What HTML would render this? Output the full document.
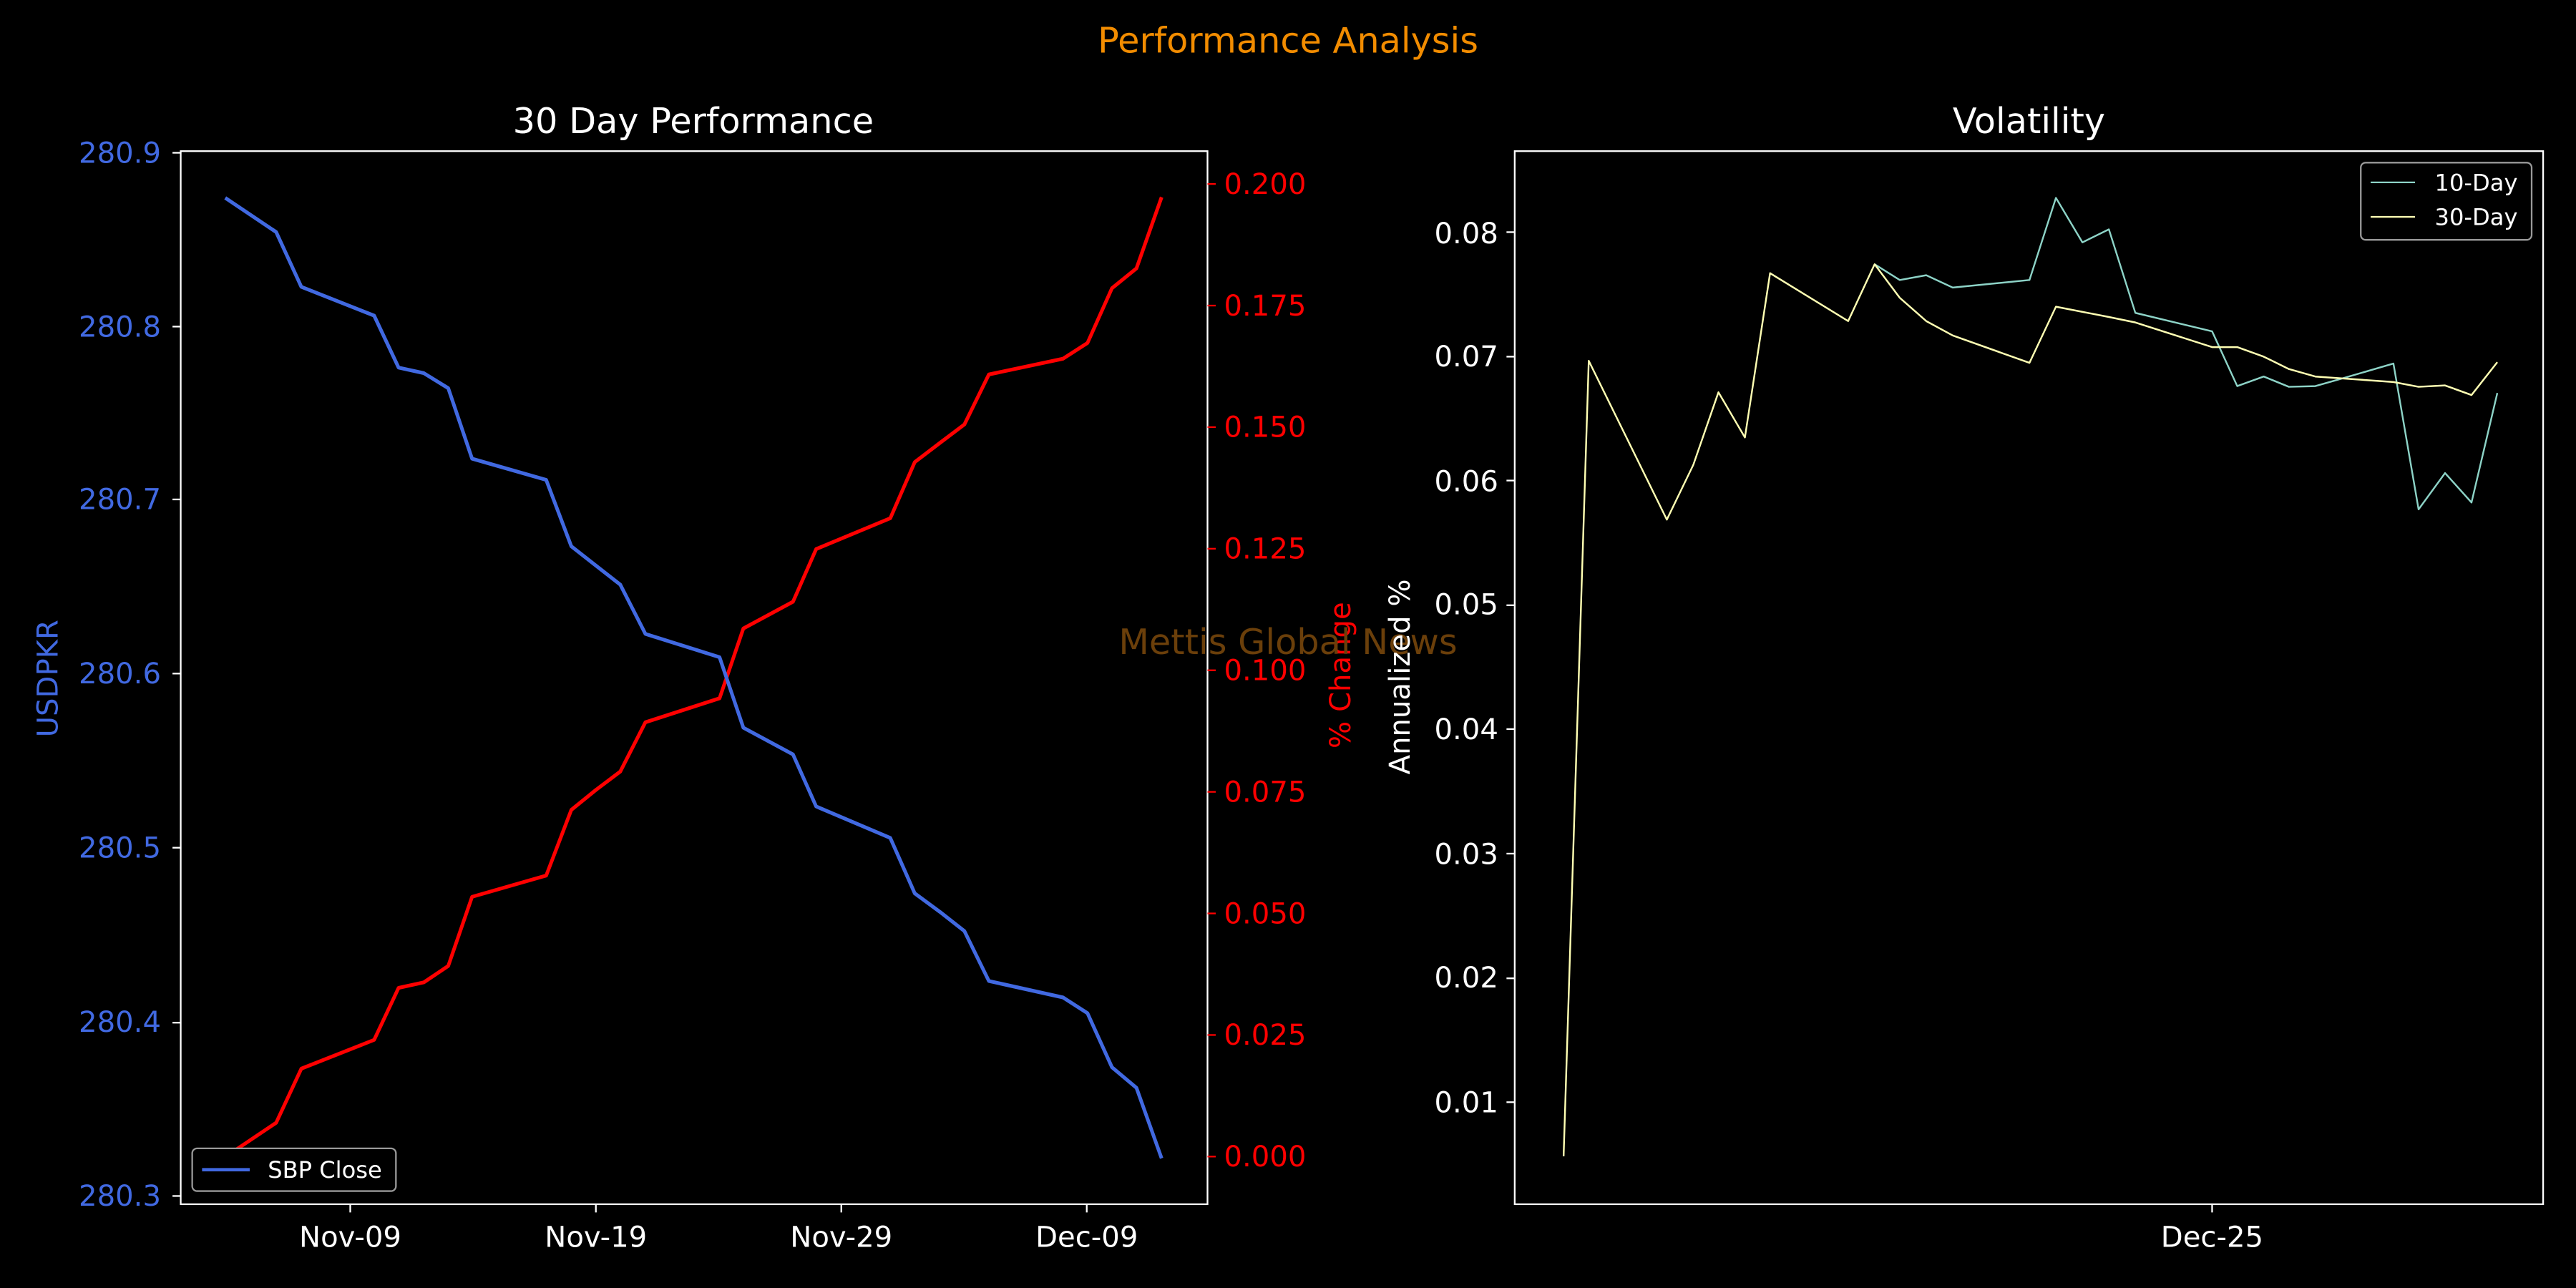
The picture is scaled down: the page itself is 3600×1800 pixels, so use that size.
<!DOCTYPE html>
<html><head><meta charset="utf-8"><style>html,body{margin:0;padding:0;background:#000;}svg{display:block}</style></head>
<body>
<svg width="3600" height="1800" viewBox="0 0 1568 784" xmlns="http://www.w3.org/2000/svg" font-family="'DejaVu Sans','Liberation Sans',sans-serif">
<rect width="1568" height="784" fill="#000"/>
<text x="784" y="32" fill="#f28c00" font-size="21.5" text-anchor="middle">Performance Analysis</text>

<!-- LEFT -->
<text x="422" y="81" fill="#fff" font-size="21.5" text-anchor="middle">30 Day Performance</text>
<g transform="translate(108.9,87.1) scale(0.4028,0.4167)" fill="none" stroke-linejoin="round">
<polyline stroke="#ff0000" stroke-width="5.4" points="70,1481 147,1431 185,1352 295,1310 332,1234 370,1226 407,1202 443,1101 555,1070 593,974 630,945 667,918 705,846 817,811 853,709 928,670 963,593 1075,548 1112,466 1150,438 1187,411 1224,338 1336,315 1373,292 1410,212 1447,183 1485,79"/>
<polyline stroke="#4169e1" stroke-width="5.4" points="70,80 147,130 185,210 295,252 332,328 370,336 407,358 443,461 555,492 593,589 630,617 667,645 705,717 817,751 853,854 928,893 963,969 1075,1015 1112,1096 1150,1123 1187,1151 1224,1224 1336,1248 1373,1271 1410,1350 1447,1380 1485,1483"/>
</g>
<rect x="110" y="92" width="625" height="641" fill="none" stroke="#fff" stroke-width="1"/>
<g stroke="#fff" stroke-width="1">
<line x1="110" x2="105" y1="93" y2="93"/><line x1="110" x2="105" y1="198.8" y2="198.8"/><line x1="110" x2="105" y1="304" y2="304"/><line x1="110" x2="105" y1="410" y2="410"/><line x1="110" x2="105" y1="516" y2="516"/><line x1="110" x2="105" y1="622.5" y2="622.5"/><line x1="110" x2="105" y1="728" y2="728"/>
<line x1="213.2" x2="213.2" y1="733" y2="738"/><line x1="362.7" x2="362.7" y1="733" y2="738"/><line x1="512.1" x2="512.1" y1="733" y2="738"/><line x1="661.5" x2="661.5" y1="733" y2="738"/>
</g>
<g fill="#4169e1" font-size="17.5" text-anchor="end">
<text x="98" y="99">280.9</text><text x="98" y="205">280.8</text><text x="98" y="310">280.7</text><text x="98" y="416">280.6</text><text x="98" y="522">280.5</text><text x="98" y="628">280.4</text><text x="98" y="734">280.3</text>
</g>
<g fill="#fff" font-size="17.5" text-anchor="middle">
<text x="213.2" y="759">Nov-09</text><text x="362.7" y="759">Nov-19</text><text x="512.1" y="759">Nov-29</text><text x="661.5" y="759">Dec-09</text>
</g>
<g stroke="#ff0000" stroke-width="1">
<line x1="735" x2="740" y1="112" y2="112"/><line x1="735" x2="740" y1="186" y2="186"/><line x1="735" x2="740" y1="260" y2="260"/><line x1="735" x2="740" y1="334" y2="334"/><line x1="735" x2="740" y1="408" y2="408"/><line x1="735" x2="740" y1="482" y2="482"/><line x1="735" x2="740" y1="556" y2="556"/><line x1="735" x2="740" y1="630" y2="630"/><line x1="735" x2="740" y1="704" y2="704"/>
</g>
<g fill="#ff0000" font-size="17.5">
<text x="745" y="118">0.200</text><text x="745" y="192">0.175</text><text x="745" y="266">0.150</text><text x="745" y="340">0.125</text><text x="745" y="414">0.100</text><text x="745" y="488">0.075</text><text x="745" y="562">0.050</text><text x="745" y="636">0.025</text><text x="745" y="710">0.000</text>
</g>
<text transform="translate(35,413) rotate(-90)" fill="#4169e1" font-size="17.5" text-anchor="middle">USDPKR</text>
<text transform="translate(822,411) rotate(-90)" fill="#ff0000" font-size="17.5" text-anchor="middle">% Change</text>
<text x="784" y="398" fill="#6b3f0a" font-size="21.5" text-anchor="middle">Mettis Global News</text>
<rect x="117" y="699" width="124" height="26" rx="3" fill="#000" stroke="#999" stroke-width="1"/>
<line x1="123" x2="152" y1="712" y2="712" stroke="#4169e1" stroke-width="2"/>
<text x="163" y="717" fill="#fff" font-size="14">SBP Close</text>

<!-- RIGHT -->
<text x="1235" y="81" fill="#fff" font-size="21.5" text-anchor="middle">Volatility</text>
<g transform="translate(914.7,87.1) scale(0.4028,0.4167)" fill="none" stroke-linejoin="round">
<polyline stroke="#8dd3c7" stroke-width="2.6" points="562,177 600,200 640,193 680,211 796,200 836,80 876,145 916,126 956,248 1072,275 1110,355 1150,341 1188,356 1228,355 1268,344 1346,322 1384,535 1424,482 1464,525 1503,365"/>
<polyline stroke="#ffffb3" stroke-width="2.6" points="92,1480 130,318 248,550 288,470 326,364 366,430 404,190 522,260 562,177 600,226 640,260 680,281 796,321 836,239 916,254 956,262 1072,298 1110,298 1150,312 1188,330 1228,341 1346,349 1384,356 1424,354 1464,368 1503,320"/>
</g>
<rect x="922" y="92" width="626" height="641" fill="none" stroke="#fff" stroke-width="1"/>
<g stroke="#fff" stroke-width="1">
<line x1="922" x2="917" y1="141.3" y2="141.3"/><line x1="922" x2="917" y1="217.1" y2="217.1"/><line x1="922" x2="917" y1="292.5" y2="292.5"/><line x1="922" x2="917" y1="368.4" y2="368.4"/><line x1="922" x2="917" y1="443.8" y2="443.8"/><line x1="922" x2="917" y1="519.6" y2="519.6"/><line x1="922" x2="917" y1="595.5" y2="595.5"/><line x1="922" x2="917" y1="670.9" y2="670.9"/>
<line x1="1346.5" x2="1346.5" y1="733" y2="738"/>
</g>
<g fill="#fff" font-size="17.5" text-anchor="end">
<text x="912" y="148">0.08</text><text x="912" y="223">0.07</text><text x="912" y="299">0.06</text><text x="912" y="374">0.05</text><text x="912" y="450">0.04</text><text x="912" y="526">0.03</text><text x="912" y="601">0.02</text><text x="912" y="677">0.01</text>
</g>
<text x="1346.5" y="759" fill="#fff" font-size="17.5" text-anchor="middle">Dec-25</text>
<text transform="translate(858,412) rotate(-90)" fill="#fff" font-size="17.5" text-anchor="middle">Annualized %</text>
<rect x="1437" y="99" width="104" height="47" rx="3" fill="#000" stroke="#999" stroke-width="1"/>
<line x1="1443" x2="1470" y1="111" y2="111" stroke="#8dd3c7" stroke-width="1"/>
<line x1="1443" x2="1470" y1="132" y2="132" stroke="#ffffb3" stroke-width="1"/>
<text x="1482" y="116" fill="#fff" font-size="14">10-Day</text>
<text x="1482" y="137" fill="#fff" font-size="14">30-Day</text>
</svg>
</body></html>
